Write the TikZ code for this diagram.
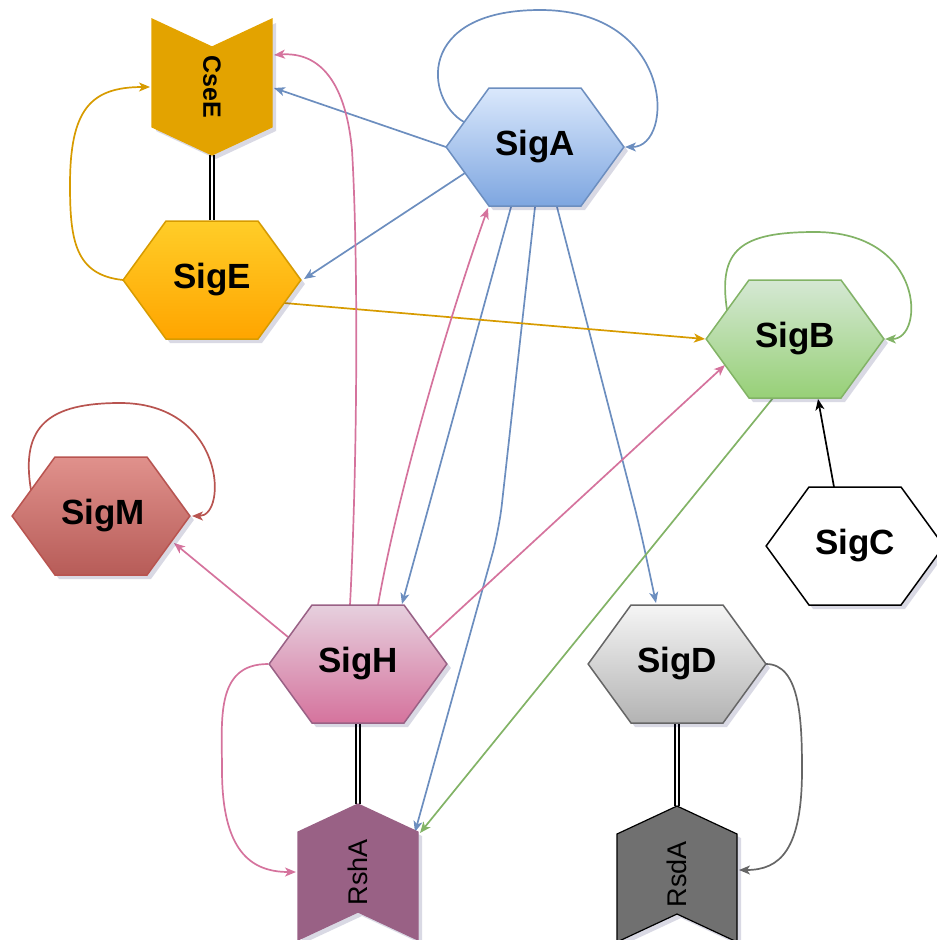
\documentclass[tikz,border=0pt]{standalone}
\usepackage{fontspec}
\setmainfont{Liberation Sans}
\usetikzlibrary{shapes.symbols,arrows.meta,calc,shadows}
\definecolor{bl}{HTML}{6C8EBF}
\definecolor{gd}{HTML}{D79B00}
\definecolor{pk}{HTML}{D5739D}
\definecolor{gn}{HTML}{82B366}
\definecolor{rd}{HTML}{B85450}
\definecolor{gy}{HTML}{666666}
\definecolor{cse}{RGB}{227,163,0}
\definecolor{rsh}{HTML}{996185}
\definecolor{rsd}{RGB}{112,112,112}
\definecolor{aTop}{HTML}{DAE8FC}\definecolor{aBot}{HTML}{7EA6E0}
\definecolor{eTop}{HTML}{FFCD28}\definecolor{eBot}{HTML}{FFA500}
\definecolor{bTop}{HTML}{D5E8D4}\definecolor{bBot}{HTML}{97D077}
\definecolor{hTop}{HTML}{E6D0DE}\definecolor{hBot}{HTML}{D5739D}
\definecolor{dTop}{HTML}{F5F5F5}\definecolor{dBot}{HTML}{B3B3B3}
\definecolor{mTop}{RGB}{224,145,140}\definecolor{mBot}{RGB}{183,92,88}
\pgfdeclarelayer{bg}
\pgfsetlayers{bg,main}
\tikzset{
  x=1pt, y=-1pt,
  shadowed/.style={drop shadow={shadow xshift=4pt, shadow yshift=-4pt, opacity=0.15, fill=blue!30!black}},
  hexa/.style={shape=signal, signal to=west and east, signal pointer angle=108,
    text width=80pt, align=center, inner xsep=6pt, inner ysep=0pt, minimum height=118pt,
    line width=1.5pt, font=\fontsize{35}{40}\selectfont\bfseries, shadowed},
  chev/.style={shape=signal, signal to=east, signal from=west, signal pointer angle=130,
    text width=68pt, align=center, inner xsep=6pt, inner ysep=0pt, minimum height=120pt,
    line width=1.2pt, shadowed},
  conn/.style={line width=1.7pt, -{Stealth[length=11pt,width=9pt,inset=3pt]}},
  dbl/.style={draw=black, double=white, line width=1.7pt, double distance=2.4pt},
}
\begin{document}
\begin{tikzpicture}
\useasboundingbox (0,0) rectangle (937,940);
% nodes
\node[hexa, top color=aTop, bottom color=aBot, draw=bl] (SigA) at (535,147) {SigA};
\node[hexa, top color=eTop, bottom color=eBot, draw=gd] (SigE) at (212,280) {SigE};
\node[hexa, top color=bTop, bottom color=bBot, draw=gn] (SigB) at (795,339) {SigB};
\node[hexa, fill=white, draw=black] (SigC) at (855,546) {SigC};
\node[hexa, top color=mTop, bottom color=mBot, draw=rd] (SigM) at (101,516) {SigM};
\node[hexa, top color=hTop, bottom color=hBot, draw=rsh] (SigH) at (358,664) {SigH};
\node[hexa, top color=dTop, bottom color=dBot, draw=gy] (SigD) at (677,664) {SigD};
\node[chev, rotate=-90, fill=cse, draw=cse, font=\fontsize{25}{30}\selectfont\bfseries] (CseE) at (212,87) {CseE};
\node[chev, rotate=90, fill=rsh, draw=rsh, font=\fontsize{27}{32}\selectfont] (RshA) at (358,872) {RshA};
\node[chev, rotate=90, fill=rsd, draw=black, font=\fontsize{27}{32}\selectfont] (RsdA) at (677,874) {RsdA};
% connectors
\begin{pgfonlayer}{bg}
\draw[conn, bl] ($(SigA)+(-71,-25)$) .. controls (425,100) and (415,10) .. (540,10) .. controls (675,10) and (675,147) .. ($(SigA)+(90,0)$);
\draw[conn, bl] ($(SigA)+(-89,0)$) -- ($(CseE)+(62,1)$);
\draw[conn, bl] ($(SigA)+(-70,26)$) -- ($(SigE)+(92,-1)$);
\draw[conn, bl] ($(SigA)+(-24,60)$) -- ($(SigH)+(44,-60)$);
\draw[conn, bl, rounded corners=25pt] ($(SigA)+(0,60)$) -- (499,530) -- ($(RshA)+(57,-40)$);
\draw[conn, bl, rounded corners=25pt] ($(SigA)+(22,60)$) -- (640,528) -- ($(SigD)+(-21,-61)$);
\draw[conn, gd] ($(SigE)+(-89,0)$) .. controls (75,275) and (70,240) .. (70,185) .. controls (70,110) and (90,87) .. ($(CseE)+(-62,0)$);
\draw[conn, gd] ($(SigE)+(72,23)$) -- ($(SigB)+(-90,0)$);
\draw[dbl] ($(CseE)+(0,68)$) -- ($(SigE)+(0,-60)$);
\draw[conn, gn] ($(SigB)+(-68,-29)$) .. controls (718,250) and (740,232) .. (815,232) .. controls (925,232) and (925,339) .. ($(SigB)+(90,0)$);
\draw[conn, pk] ($(SigH)+(71,-26)$) -- ($(SigB)+(-70,26)$);
\draw[conn, gn] ($(SigB)+(-22,59)$) -- ($(RshA)+(62,-39)$);
\draw[conn, black] ($(SigC)+(-21,-59)$) -- ($(SigB)+(23,60)$);
\draw[conn, rd] ($(SigM)+(-70,-26)$) .. controls (20,425) and (50,403) .. (120,403) .. controls (225,403) and (228,516) .. ($(SigM)+(91,0)$);
\draw[conn, pk] ($(SigH)+(-70,-27)$) -- ($(SigM)+(73,27)$);
\draw[conn, pk] ($(SigH)+(-8,-59)$) .. controls (358,450) and (358,250) .. (352,150) .. controls (345,75) and (315,52) .. ($(CseE)+(62,-32)$);
\draw[conn, pk] ($(SigH)+(20,-59)$) .. controls (400,480) and (455,300) .. ($(SigA)+(-47,61)$);
\draw[conn, pk] ($(SigH)+(-90,0)$) .. controls (215,664) and (222,720) .. (222,770) .. controls (222,850) and (250,872) .. ($(RshA)+(-62,0)$);
\draw[dbl] ($(SigH)+(0,60)$) -- ($(RshA)+(0,-68)$);
\draw[conn, gy] ($(SigD)+(89,0)$) .. controls (800,664) and (802,720) .. (802,770) .. controls (802,850) and (780,870) .. ($(RsdA)+(62,-4)$);
\draw[dbl] ($(SigD)+(0,60)$) -- ($(RsdA)+(0,-68)$);
\end{pgfonlayer}
\end{tikzpicture}
\end{document}
